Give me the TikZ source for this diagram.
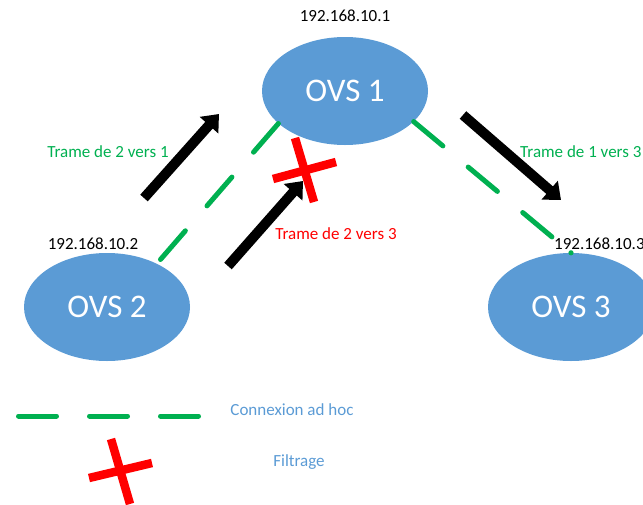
\documentclass[tikz,border=0pt]{standalone}
\usepackage{fontspec}
\setmainfont{Carlito}
\usetikzlibrary{shapes.geometric,arrows.meta}
\definecolor{ovsblue}{HTML}{5B9BD5}
\definecolor{adgreen}{HTML}{00B050}
\definecolor{filtred}{HTML}{FF0000}
\tikzset{
  ovs/.style={ellipse, fill=ovsblue, draw=none, minimum width=166pt, minimum height=108pt, inner sep=0pt, text=white, font=\fontsize{33}{33}\selectfont},
  lbl/.style={font=\fontsize{17}{17}\selectfont, inner sep=0pt, anchor=base},
  lblw/.style={lbl, anchor=base west},
  adhoc/.style={draw=adgreen, line width=5pt, line cap=round, dash pattern=on 38pt off 33pt},
  bigarrow/.style={draw=black, line width=10pt, -{Triangle[width=24pt,length=15pt]}},
  cross/.style={draw=filtred, line width=8.5pt}
}
\begin{document}
\begin{tikzpicture}[x=1pt,y=-1pt]
\useasboundingbox (0,0) rectangle (643,504);
\clip (0,0) rectangle (643,504);
% switches
\node[ovs] (ovs1) at (345,91) {OVS 1};
\node[ovs] (ovs2) at (107,307) {OVS 2};
\node[ovs] (ovs3) at (571,307) {OVS 3};
% addresses
\node[lbl] (ip1) at (345,21.5) {192.168.10.1};
\node[lbl] (ip2) at (93,249) {192.168.10.2};
\node[lblw] (ip3) at (554,249) {192.168.10.3};
% ad hoc links
\draw[adhoc] (ovs1.206) -- (ovs2.41);
\draw[adhoc] (ovs1.-24) -- (ovs3.90);
\fill[adgreen] (ovs3.90) circle (2.6pt);
% frame arrows
\coordinate (a1s) at (144,198); \coordinate (a1e) at (219,114);
\coordinate (a2s) at (228,266); \coordinate (a2e) at (303,181);
\coordinate (a3s) at (463,115); \coordinate (a3e) at (561,200);
\draw[bigarrow] (a1s) -- (a1e);
\draw[bigarrow] (a2s) -- (a2e);
\draw[bigarrow] (a3s) -- (a3e);
% frame labels
\node[lbl, text=adgreen] (t21) at (108,157) {Trame de 2 vers 1};
\node[lblw, text=adgreen] (t13) at (520,157) {Trame de 1 vers 3};
\node[lbl, text=filtred] (t23) at (336,239) {Trame de 2 vers 3};
% filter cross
\coordinate (c1a) at (295,138); \coordinate (c1b) at (314,202);
\coordinate (c2a) at (273,179); \coordinate (c2b) at (336,162);
\draw[cross] (c1a) -- (c1b);
\draw[cross] (c2a) -- (c2b);
% legend
\coordinate (l1) at (18.5,416); \coordinate (l2) at (198.5,416);
\draw[adhoc] (l1) -- (l2);
\node[lbl, text=ovsblue] (leg1) at (292,415.5) {Connexion ad hoc};
\coordinate (x1a) at (111,439); \coordinate (x1b) at (130,504);
\coordinate (x2a) at (89,478); \coordinate (x2b) at (152,463);
\draw[cross] (x1a) -- (x1b);
\draw[cross] (x2a) -- (x2b);
\node[lbl, text=ovsblue] (leg2) at (299,466) {Filtrage};
\end{tikzpicture}
\end{document}
